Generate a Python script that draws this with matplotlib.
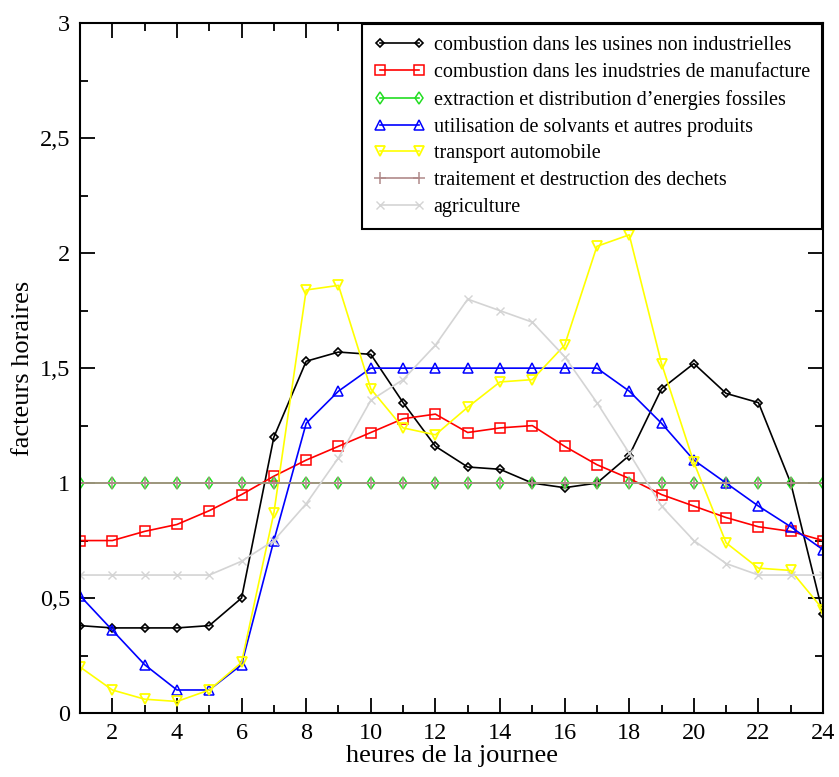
import numpy as np
import matplotlib
matplotlib.use("Agg")
import matplotlib.pyplot as plt
from matplotlib.ticker import MultipleLocator, FuncFormatter

plt.rcParams["font.family"] = ["Liberation Serif", "DejaVu Serif"]

heures = np.arange(1, 25)

usines_non_ind = [0.38, 0.37, 0.37, 0.37, 0.38, 0.50, 1.20, 1.53, 1.57, 1.56, 1.35, 1.16,
                  1.07, 1.06, 1.00, 0.98, 1.00, 1.12, 1.41, 1.52, 1.39, 1.35, 1.00, 0.43]
manufacture = [0.75, 0.75, 0.79, 0.82, 0.88, 0.95, 1.03, 1.10, 1.16, 1.22, 1.28, 1.30,
               1.22, 1.24, 1.25, 1.16, 1.08, 1.02, 0.95, 0.90, 0.85, 0.81, 0.79, 0.75]
energies_fossiles = [1.0] * 24
solvants = [0.51, 0.36, 0.21, 0.10, 0.10, 0.21, 0.75, 1.26, 1.40, 1.50, 1.50, 1.50,
            1.50, 1.50, 1.50, 1.50, 1.50, 1.40, 1.26, 1.10, 1.00, 0.90, 0.81, 0.71]
transport = [0.20, 0.10, 0.06, 0.05, 0.10, 0.22, 0.87, 1.84, 1.86, 1.41, 1.24, 1.21,
             1.33, 1.44, 1.45, 1.60, 2.03, 2.08, 1.52, 1.09, 0.74, 0.63, 0.62, 0.45]
dechets = [1.0] * 24
agriculture = [0.60, 0.60, 0.60, 0.60, 0.60, 0.66, 0.75, 0.91, 1.11, 1.36, 1.45, 1.60,
               1.80, 1.75, 1.70, 1.55, 1.35, 1.13, 0.90, 0.75, 0.65, 0.60, 0.60, 0.60]

labels = [
    "combustion dans les usines non industrielles",
    "combustion dans les inudstries de manufacture",
    "extraction et distribution d\u2019energies fossiles",
    "utilisation de solvants et autres produits",
    "transport automobile",
    "traitement et destruction des dechets",
    "agriculture",
]

fig = plt.figure(figsize=(8.39, 7.77), dpi=100)
ax = fig.add_axes([0.0954, 0.0824, 0.8856, 0.8876])

ax.plot(heures, usines_non_ind, color="black", marker="D", ms=4.5, mfc="none", mew=1.2, lw=1.2, label=labels[0])
ax.plot(heures, manufacture, color="red", marker="s", ms=6.5, mfc="none", mew=1.1, lw=1.2, label=labels[1])
ax.plot(heures, energies_fossiles, color="#22dd22", marker="d", ms=6, mfc="none", mew=1.1, lw=1.2, label=labels[2])
ax.plot(heures, solvants, color="blue", marker="^", ms=6.5, mfc="none", mew=1.1, lw=1.2, label=labels[3])
ax.plot(heures, transport, color="yellow", marker="v", ms=6.5, mfc="none", mew=1.3, lw=1.2, label=labels[4])
ax.plot(heures, dechets, color="#b08a8a", marker="+", ms=9, mew=1.1, lw=1.2, label=labels[5])
ax.plot(heures, agriculture, color="#d4d4d4", marker="x", ms=6, mew=1.0, lw=1.2, label=labels[6])

ax.set_xlim(1, 24)
ax.set_ylim(0, 3)
ax.xaxis.set_major_locator(MultipleLocator(2))
ax.xaxis.set_minor_locator(MultipleLocator(1))
ax.yaxis.set_major_locator(MultipleLocator(0.5))
ax.yaxis.set_minor_locator(MultipleLocator(0.25))
ax.yaxis.set_major_formatter(FuncFormatter(lambda v, p: f"{v:g}".replace(".", ",")))
ax.tick_params(which="both", direction="in", top=True, right=True, width=1.3, labelsize=17.5)
ax.tick_params(which="major", length=11, pad=7)
ax.tick_params(which="minor", length=6)
for s in ax.spines.values():
    s.set_linewidth(1.5)

ax.set_xlabel("heures de la journee", fontsize=19, labelpad=1)
ax.set_ylabel("facteurs horaires", fontsize=19, labelpad=4)

leg = ax.legend(loc="upper right", bbox_to_anchor=(1.0, 1.0), borderaxespad=0.05, fontsize=14.5,
                numpoints=2, handlelength=2.5, handletextpad=0.45, labelspacing=0.38,
                borderpad=0.6, fancybox=False, edgecolor="black", framealpha=1)
leg.get_frame().set_linewidth(1.5)

fig.savefig("out.png", dpi=100)
